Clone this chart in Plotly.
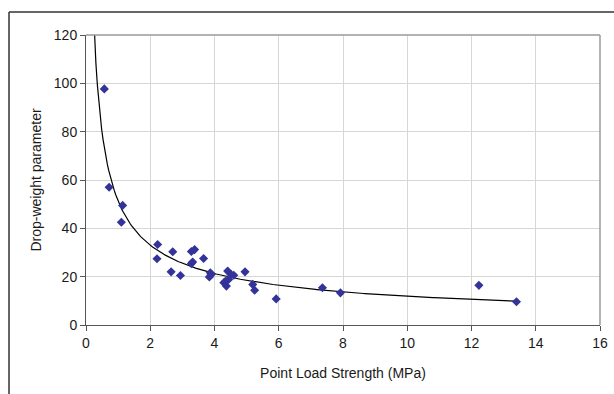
import numpy as np
import plotly.graph_objects as go

# Data
point_load_mpa = [0.57, 0.72, 1.14, 1.10, 2.23, 2.21, 2.70, 2.65, 2.94,
                  3.28, 3.38, 3.32, 3.28, 3.66, 3.87, 3.84, 3.90,
                  4.41, 4.52, 4.60, 4.29, 4.37, 4.34, 4.44, 4.95,
                  5.19, 5.25, 5.92, 7.36, 7.92, 12.23, 13.40]
drop_weight = [97.7, 57.0, 49.5, 42.5, 33.3, 27.4, 30.3, 22.0, 20.5,
               30.4, 31.2, 26.1, 25.4, 27.5, 21.6, 19.9, 20.9,
               22.3, 20.9, 20.6, 17.5, 16.1, 18.1, 18.8, 22.0,
               16.8, 14.4, 10.8, 15.4, 13.3, 16.4, 9.6]

x_ticks = [0, 2, 4, 6, 8, 10, 12, 14, 16]
y_ticks = [0, 20, 40, 60, 80, 100, 120]

# Power trendline (least squares in log-log space, as Excel does)
b, ln_a = np.polyfit(np.log(point_load_mpa), np.log(drop_weight), 1)
a = np.exp(ln_a)
trend_x = np.linspace(0.22, max(point_load_mpa), 300)
trend_y = a * trend_x ** b

fig = go.Figure()
fig.add_trace(go.Scatter(
    x=trend_x, y=trend_y, mode="lines",
    line=dict(color="black", width=1.2), hoverinfo="skip", showlegend=False))
fig.add_trace(go.Scatter(
    x=point_load_mpa, y=drop_weight, mode="markers",
    marker=dict(symbol="diamond", size=7, color="#333399"),
    showlegend=False, cliponaxis=False))

tick_font = dict(family="Liberation Sans, Arial, sans-serif", size=14, color="#1a1a1a")
title_font = dict(family="Liberation Sans, Arial, sans-serif", size=14, color="#1a1a1a")

fig.update_layout(
    width=614, height=394,
    margin=dict(l=86, r=14, t=35, b=69),
    paper_bgcolor="white", plot_bgcolor="white",
    font=tick_font,
    xaxis=dict(range=[0, 16], tickvals=x_ticks, ticktext=[str(v) for v in x_ticks],
               showgrid=True, gridcolor="#d6d6d6", gridwidth=1,
               showline=True, linecolor="#555", linewidth=1,
               ticks="outside", ticklen=5, tickcolor="#555",
               zeroline=False, tickfont=tick_font, automargin=False,
               title=dict(text="Point Load Strength (MPa)", font=title_font, standoff=18)),
    yaxis=dict(range=[0, 120], tickvals=y_ticks, ticktext=[str(v) for v in y_ticks],
               showgrid=True, gridcolor="#d6d6d6", gridwidth=1,
               showline=True, linecolor="#555", linewidth=1,
               ticks="outside", ticklen=5, tickcolor="#555",
               zeroline=False, tickfont=tick_font, automargin=False,
               title=dict(text="Drop-weight parameter", font=title_font, standoff=8)),
    shapes=[
        # plot-area top and right border
        dict(type="line", xref="paper", yref="paper", x0=0, x1=1, y0=1, y1=1,
             line=dict(color="#9a9a9a", width=1.5)),
        dict(type="line", xref="paper", yref="paper", x0=1, x1=1, y0=0, y1=1,
             line=dict(color="#9a9a9a", width=1.5)),
        # outer chart border (left and top)
        dict(type="line", xref="paper", yref="paper", x0=-0.1498, x1=-0.1498,
             y0=-0.3, y1=1.079, line=dict(color="#333", width=1.5)),
        dict(type="line", xref="paper", yref="paper", x0=-0.1498, x1=1.1,
             y0=1.079, y1=1.079, line=dict(color="#333", width=1.5)),
    ],
)

# remove the default page margin so the figure fills the window exactly
fig.write_html("out.html",
               config={"displayModeBar": False},
               post_script="document.body.style.margin='0';"
                           "document.body.style.overflow='hidden';")
